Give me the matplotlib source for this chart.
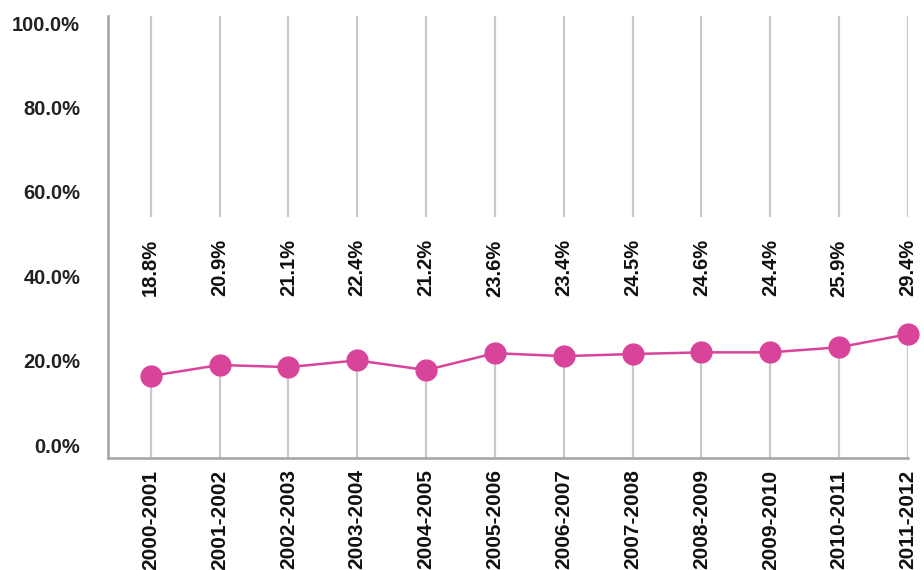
import matplotlib
matplotlib.use("Agg")
import matplotlib.pyplot as plt

# periods and values
periods = ["2000-2001", "2001-2002", "2002-2003", "2003-2004", "2004-2005",
           "2005-2006", "2006-2007", "2007-2008", "2008-2009", "2009-2010",
           "2010-2011", "2011-2012"]
# labels as printed on the chart
label_values = [18.8, 20.9, 21.1, 22.4, 21.2, 23.6, 23.4, 24.5, 24.6, 24.4, 25.9, 29.4]
# where the dots actually sit against the y axis
point_values = [16.4, 19.0, 18.5, 20.1, 17.8, 21.8, 21.1, 21.6, 22.0, 22.0, 23.2, 26.3]
y_ticks = [0, 20, 40, 60, 80, 100]

plt.rcParams['font.family'] = ['Liberation Sans', 'DejaVu Sans']

pink = "#d9449b"
grid_gray = "#c9c9cb"
axis_gray = "#a3a3a3"

fig = plt.figure(figsize=(9.24, 5.70), dpi=100)
ax = fig.add_axes([108 / 924, 0.196, 800 / 924, 0.972 - 0.196])

xs = list(range(len(periods)))
ymin, ymax = -3.1, 101.7
label_y = 42.0
gap_top = 54.0

# vertical guide lines: below each dot and above the value label
ax.vlines(xs, ymin, point_values, color=grid_gray, lw=1.6, zorder=1)
ax.vlines(xs, gap_top, ymax, color=grid_gray, lw=1.6, zorder=1)

ax.plot(xs, point_values, color=pink, lw=1.8, marker="o", markersize=15,
        markerfacecolor=pink, markeredgecolor=pink, zorder=3, clip_on=False)

for x, v in zip(xs, label_values):
    ax.text(x, label_y, f"{v:.1f}%", rotation=90, ha="center", va="center",
            fontsize=14.5, fontweight="bold", color="#111111")

ax.set_xlim(-0.62, 11)
ax.set_ylim(ymin, ymax)
ax.set_yticks(y_ticks)
ax.set_yticklabels([f"{t:.1f}%" for t in y_ticks], fontsize=14.5, fontweight="bold",
                   color="#222222")
ax.set_xticks(xs)
ax.set_xticklabels(periods, rotation=90, fontsize=15, fontweight="bold",
                   color="#111111", va="top")
ax.tick_params(axis="y", length=0, pad=20)
ax.tick_params(axis="x", length=0, pad=8)

for side in ["top", "right"]:
    ax.spines[side].set_visible(False)
for side in ["left", "bottom"]:
    ax.spines[side].set_color(axis_gray)
    ax.spines[side].set_linewidth(1.8)

fig.savefig("out.png", dpi=100)
